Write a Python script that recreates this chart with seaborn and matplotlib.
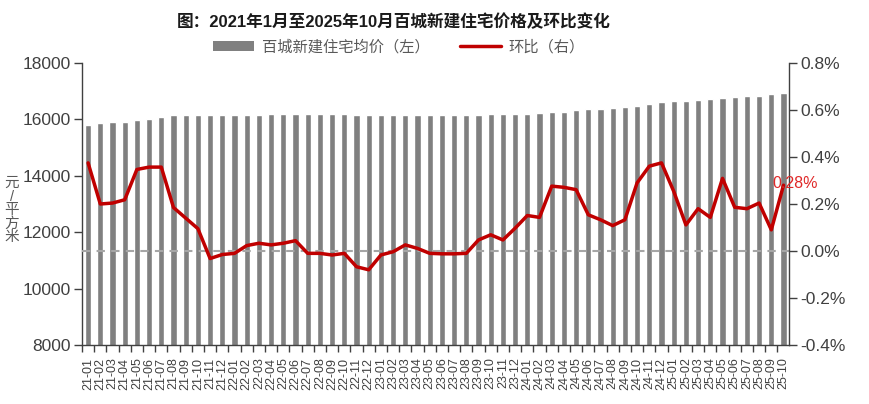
import numpy as np
import pandas as pd
import matplotlib
matplotlib.use("Agg")
import matplotlib.pyplot as plt
import seaborn as sns
from matplotlib.patches import Patch
from matplotlib.lines import Line2D
from matplotlib.ticker import FuncFormatter

# ---------------- data ----------------
years = ["21", "22", "23", "24", "25"]
month_nums = ["01", "02", "03", "04", "05", "06", "07", "08", "09", "10", "11", "12"]
months = [f"{y}-{m}" for y in years for m in month_nums][:58]

price = [15800, 15860, 15910, 15915, 15965, 16010, 16080, 16140,
         16145, 16145, 16145, 16145, 16145, 16145, 16145,
         16190, 16190, 16190, 16190, 16190, 16190, 16190,
         16145, 16145, 16145, 16145, 16145, 16145, 16145, 16145, 16145, 16145, 16145,
         16180, 16180, 16180, 16180,
         16225, 16270, 16270,
         16340, 16370, 16385, 16410, 16436, 16490, 16540, 16600, 16650,
         16670, 16690, 16725, 16767, 16790, 16826, 16838, 16885, 16944]

mom = [0.375, 0.20, 0.204, 0.218, 0.347, 0.357, 0.357, 0.185, 0.14, 0.095,
       -0.032, -0.015, -0.01, 0.023, 0.033, 0.026, 0.033, 0.044, -0.01, -0.01,
       -0.017, -0.01, -0.067, -0.08, -0.017, -0.003, 0.026, 0.011, -0.01, -0.012,
       -0.012, -0.01, 0.047, 0.069, 0.047, 0.097, 0.151, 0.143, 0.276, 0.271,
       0.261, 0.154, 0.133, 0.108, 0.133, 0.29, 0.361, 0.375, 0.254, 0.111,
       0.18, 0.143, 0.309, 0.186, 0.18, 0.204, 0.09, 0.28]

last_label = "0.28%"
title = "图：2021年1月至2025年10月百城新建住宅价格及环比变化"
bar_name = "百城新建住宅均价（左）"
line_name = "环比（右）"
unit = "元/平方米"
left_ticks = [8000, 10000, 12000, 14000, 16000, 18000]
right_ticks = [-0.4, -0.2, 0.0, 0.2, 0.4, 0.6, 0.8]

# ---------------- style ----------------
sns.set_theme(style="white")
plt.rcParams["font.family"] = ["Liberation Sans", "Noto Sans CJK SC"]
plt.rcParams["axes.unicode_minus"] = False

BAR = "#808080"
RED = "#c00000"
TXT = "#404040"

fig = plt.figure(figsize=(8.69, 4.04), dpi=100)
W, H = 869, 404
ax = fig.add_axes([82 / W, 1 - 345 / H, (789 - 82) / W, (345 - 63) / H])

df = pd.DataFrame({"month": months, "price": price, "mom": mom})
df["pos"] = np.arange(len(df))

sns.barplot(data=df, x="month", y="price", color=BAR, saturation=1,
            width=0.5, ax=ax, zorder=2)
ax.set_ylim(8000, 18000)
ax.set_yticks(left_ticks)
ax.set_xlim(-0.5, 57.45)
ax.set_xlabel("")
ax.set_ylabel("")
ax.set_xticks(range(len(months)))
ax.set_xticklabels(months, rotation=90, fontsize=9, color=TXT)
ax.set_xticks(np.arange(len(months) + 1) - 0.5, minor=True)
ax.tick_params(axis="x", which="major", length=0, pad=9)
ax.tick_params(axis="x", which="minor", length=5, width=1, color=TXT, direction="out", bottom=True)
ax.tick_params(axis="y", which="major", length=6, width=1, color=TXT, direction="out",
               labelsize=12.5, labelcolor=TXT, pad=2, left=True)
for s in ["top", "right"]:
    ax.spines[s].set_visible(False)
for s in ["left", "bottom"]:
    ax.spines[s].set_color(TXT)
    ax.spines[s].set_linewidth(1)

ax2 = ax.twinx()
ax2.axhline(0, color="#a6a6a6", ls=(0, (4, 3)), lw=1.5, zorder=1)
sns.lineplot(data=df, x="pos", y="mom", color=RED, lw=2.5, ax=ax2, zorder=3,
             solid_joinstyle="round", solid_capstyle="round")
ax2.set_ylim(-0.4, 0.8)
ax2.set_yticks(right_ticks)
ax2.yaxis.set_major_formatter(FuncFormatter(lambda v, p: f"{v:.1f}%"))
ax2.set_xlim(-0.5, 57.45)
ax2.set_xlabel("")
ax2.set_ylabel("")
ax2.tick_params(axis="y", which="major", length=6, width=1, color=TXT, direction="out",
                labelsize=12.5, labelcolor=TXT, pad=2, right=True)
for s in ["top", "left", "bottom"]:
    ax2.spines[s].set_visible(False)
ax2.spines["right"].set_color(TXT)
ax2.spines["right"].set_linewidth(1)

ax2.annotate(last_label, xy=(df["pos"].iloc[-1], mom[-1]), xytext=(-11, 2),
             textcoords="offset pixels", color="#e02828", fontsize=11.5,
             ha="left", va="center", zorder=5)

fig.text(394 / W, 1 - 22 / H, title, ha="center", va="center",
         fontsize=12, fontweight="bold", color="#1a1a1a")
fig.text(12 / W, 1 - 210 / H, "\n".join(list(unit)), ha="center", va="center",
         fontsize=10.5, color="#595959", linespacing=0.95)

handles = [Patch(facecolor=BAR, edgecolor="none"),
           Line2D([0], [0], color=RED, lw=2.5)]
fig.legend(handles, [bar_name, line_name], loc="center", ncol=2,
           bbox_to_anchor=(399 / W, 1 - 47 / H), frameon=False, fontsize=11,
           labelcolor="#595959", handlelength=2.7, handleheight=0.6,
           handletextpad=0.5, columnspacing=2.0)

fig.savefig("out.png", dpi=100)
